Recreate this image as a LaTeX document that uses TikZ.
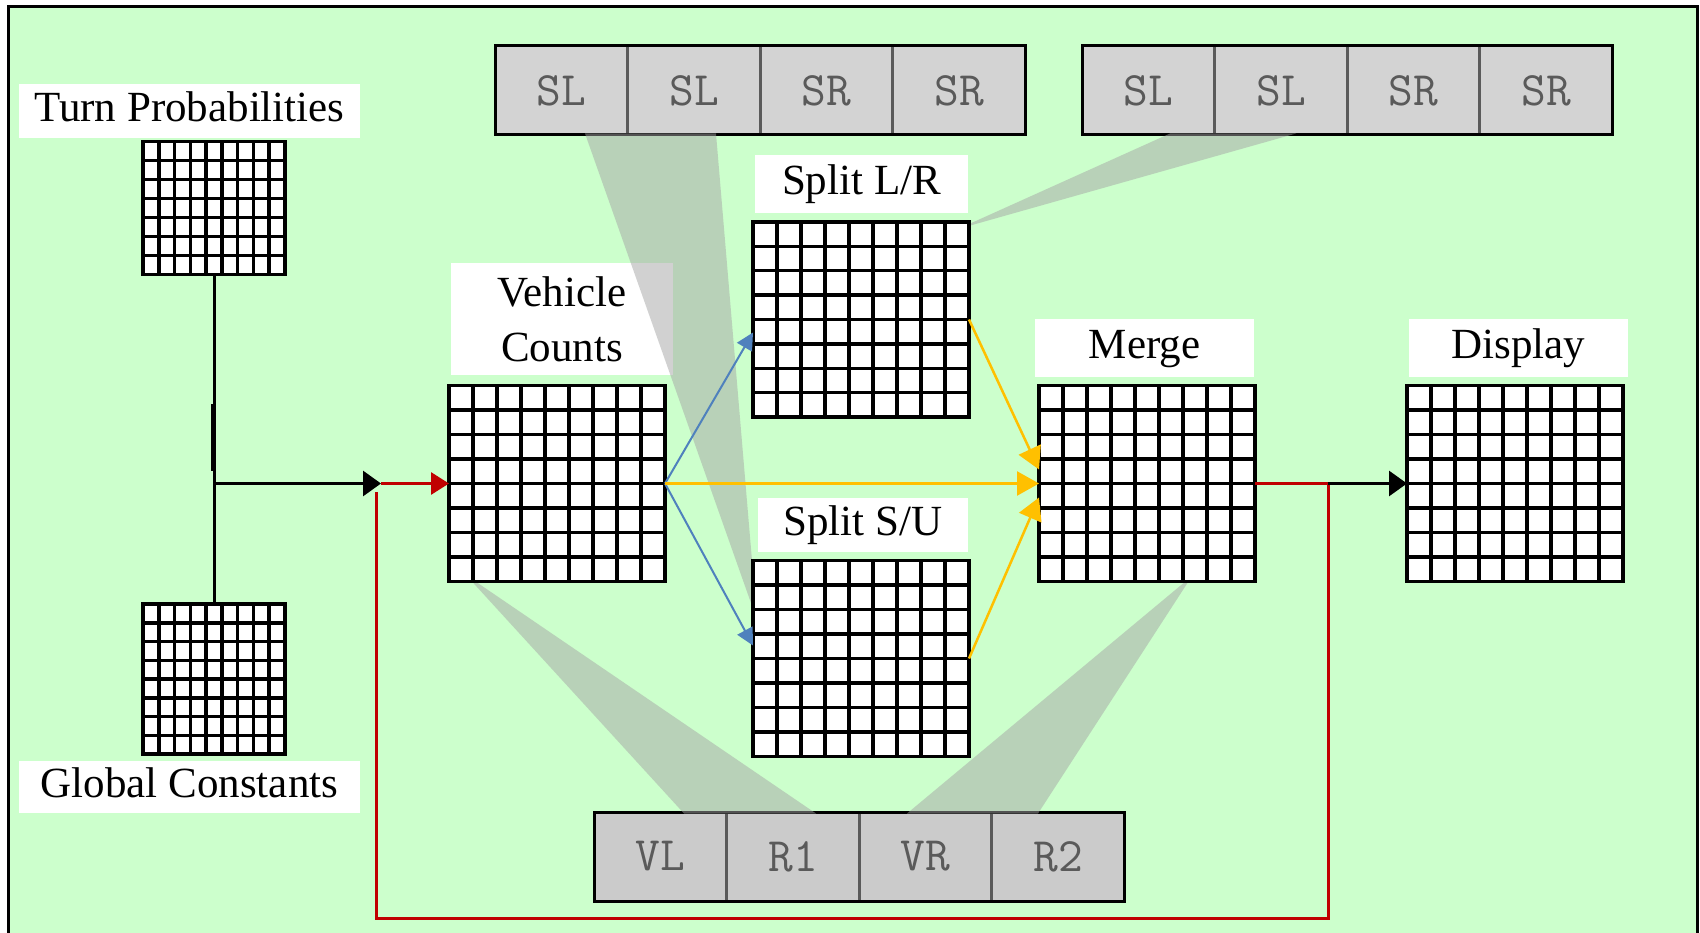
\documentclass[tikz,border=0pt]{standalone}
\usepackage{fontspec}
\usepackage{xcolor}
\usetikzlibrary{calc,
	positioning,
	arrows.meta}
\newfontfamily\labelserif{Liberation Serif}
\newcommand{\lblfont}{\labelserif\fontsize{43}{55}\selectfont}
\newcommand{\regfont}{\ttfamily\fontsize{48}{54}\selectfont}
\definecolor{bggreen}{HTML}{CCFFCC}
\definecolor{regtop}{HTML}{D3D3D3}
\definecolor{regbot}{HTML}{CBCBCB}
\definecolor{regline}{HTML}{5A5A5A}
\definecolor{shade}{HTML}{A5A5A5}
\definecolor{loopred}{HTML}{C00000}
\definecolor{splitblue}{HTML}{4F81BD}
\definecolor{mergeorange}{HTML}{FFC000}
\tikzstyle{lbl}=[fill=white, inner sep=0pt, font=\lblfont, align=center]
\tikzstyle{lblone}=[lbl, text height=30pt, text depth=9pt]
\tikzstyle{regcell}=[draw=regline, fill=regtop, line width=3pt, minimum width=132.5pt,
		minimum height=89pt, inner sep=0pt, outer sep=0pt, font=\regfont, text=regline]
\tikzstyle{regcellb}=[regcell, fill=regbot]
\tikzstyle{cone}=[fill=shade, opacity=0.5]
\tikzstyle{wire}=[line width=3pt]
\tikzstyle{redwire}=[wire, draw=loopred]
\tikzstyle{bluewire}=[line width=2pt, draw=splitblue, -{Triangle[length=17pt,width=17pt]}]
\tikzstyle{orangewire}=[line width=2.5pt, draw=mergeorange, -{Triangle[length=22pt,width=24pt]}]
\tikzset{tbl/.style={draw, fill=white, line width=3.5pt, inner sep=0pt, outer sep=0pt,
		minimum width=216pt, minimum height=196pt,
		path picture={
			\foreach \c [evaluate=\c as \f using \c/9] in {1,...,8}
				\draw[line width=3.5pt] ($(path picture bounding box.north west)!\f!(path picture bounding box.north east)$) -- ++(0pt,-400pt);
			\foreach \r [evaluate=\r as \f using \r/(#1+1)] in {1,...,#1}
				\draw[line width=3.5pt] ($(path picture bounding box.north west)!\f!(path picture bounding box.south west)$) -- ++(400pt,0pt);
		}},
	tbl/.default=7}

\begin{document}
\begin{tikzpicture}[x=1pt, y=-1pt]
	\useasboundingbox (0,0) rectangle (1700,933);
	\fill[white] (0,0) rectangle (1700,933);
	\draw[wire, fill=bggreen] (8,7) rectangle (1697,960);

	% registers
	\node[regcell] (tl1) at (561.5,90.5) {SL};
	\node[regcell, right=0pt of tl1] (tl2) {SL};
	\node[regcell, right=0pt of tl2] (tl3) {SR};
	\node[regcell, right=0pt of tl3] (tl4) {SR};
	\draw[wire] (tl1.north west) rectangle (tl4.south east);
	\node[regcell] (tr1) at (1148.5,90.5) {SL};
	\node[regcell, right=0pt of tr1] (tr2) {SL};
	\node[regcell, right=0pt of tr2] (tr3) {SR};
	\node[regcell, right=0pt of tr3] (tr4) {SR};
	\draw[wire] (tr1.north west) rectangle (tr4.south east);
	\node[regcellb] (bt1) at (660.5,856.5) {VL};
	\node[regcellb, right=0pt of bt1] (bt2) {R1};
	\node[regcellb, right=0pt of bt2] (bt3) {VR};
	\node[regcellb, right=0pt of bt3] (bt4) {R2};
	\draw[wire] (bt1.north west) rectangle (bt4.south east);

	% grids
	\coordinate (tpc) at (214,208);
	\coordinate (gcc) at (214,679);
	\coordinate (vcc) at (557,483.5);
	\coordinate (slrc) at (861,319.5);
	\coordinate (ssuc) at (861,658.5);
	\coordinate (mergec) at (1147,483.5);
	\coordinate (dispc) at (1515,483.5);

	% labels
	\node[lblone, minimum width=341pt, minimum height=54pt, above=70pt of tpc, xshift=-24.5pt] (tplbl) {Turn Probabilities};
	\node[lblone, minimum width=341pt, minimum height=52pt, below=82pt of gcc, xshift=-24.5pt] (gclbl) {Global Constants};
	\node[lbl, minimum width=222pt, minimum height=112pt, above=108.5pt of vcc, xshift=5pt] (vclbl) {Vehicle\\Counts};
	\node[lblone, minimum width=213pt, minimum height=58pt, above=106.5pt of slrc, xshift=0.5pt] (slrlbl) {Split L/R};
	\node[lblone, minimum width=210pt, minimum height=54pt, above=106pt of ssuc, xshift=2pt] (sululbl) {Split S/U};
	\node[lblone, minimum width=219pt, minimum height=58pt, above=106.5pt of mergec, xshift=-2.5pt] (mergelbl) {Merge};
	\node[lblone, minimum width=219pt, minimum height=58pt, above=106.5pt of dispc, xshift=3.5pt] (displbl) {Display};

	% callouts
	\fill[cone] (585,133.5) -- (716,133.5) -- (757,620) -- cycle;
	\fill[cone] (1170,133.5) -- (1296,133.5) -- (958,229) -- cycle;
	\fill[cone] (466,575) -- (684,813.5) -- (816,813.5) -- cycle;
	\fill[cone] (1192,576) -- (907,813.5) -- (1038,813.5) -- cycle;

	\node[tbl=6, minimum width=142pt, minimum height=133pt] (tp) at (tpc) {};
	\node[tbl, minimum width=142pt, minimum height=150pt] (gc) at (gcc) {};
	\node[tbl] (vc) at (vcc) {};
	\node[tbl, minimum height=195pt] (slr) at (slrc) {};
	\node[tbl] (ssu) at (ssuc) {};
	\node[tbl] (merge) at (mergec) {};
	\node[tbl] (disp) at (dispc) {};

	% connectors
	\coordinate (jn) at (tp.south |- vc.west);
	\coordinate (feed) at ([xshift=-68pt]vc.west);
	\coordinate (tap) at ([xshift=73pt]merge.east);
	\coordinate (ret) at (376,918);
	\draw[wire] (tp.south) -- (gc.north);
	\draw[line width=5pt] (213,404) -- (213,471);
	\draw[wire, -{Triangle[length=18pt,width=25pt]}] (jn) -- (feed);
	\draw[redwire, -{Triangle[length=18pt,width=22pt]}] (feed) -- (vc.west);
	\draw[redwire] (merge.east) -- (tap) |- (ret) -- ([yshift=-8pt]ret |- feed);
	\draw[wire, -{Triangle[length=18pt,width=25pt]}] (tap) -- (disp.west);
	\draw[bluewire] (vc.east) -- ([yshift=-13pt]slr.west);
	\draw[bluewire] (vc.east) -- ([yshift=13pt]ssu.west);
	\draw[orangewire] (vc.east) -- (merge.west);
	\draw[orangewire] (slr.east) -- ([yshift=14pt]merge.west);
	\draw[orangewire] (ssu.east) -- ([yshift=-14pt]merge.west);
\end{tikzpicture}
\end{document}
